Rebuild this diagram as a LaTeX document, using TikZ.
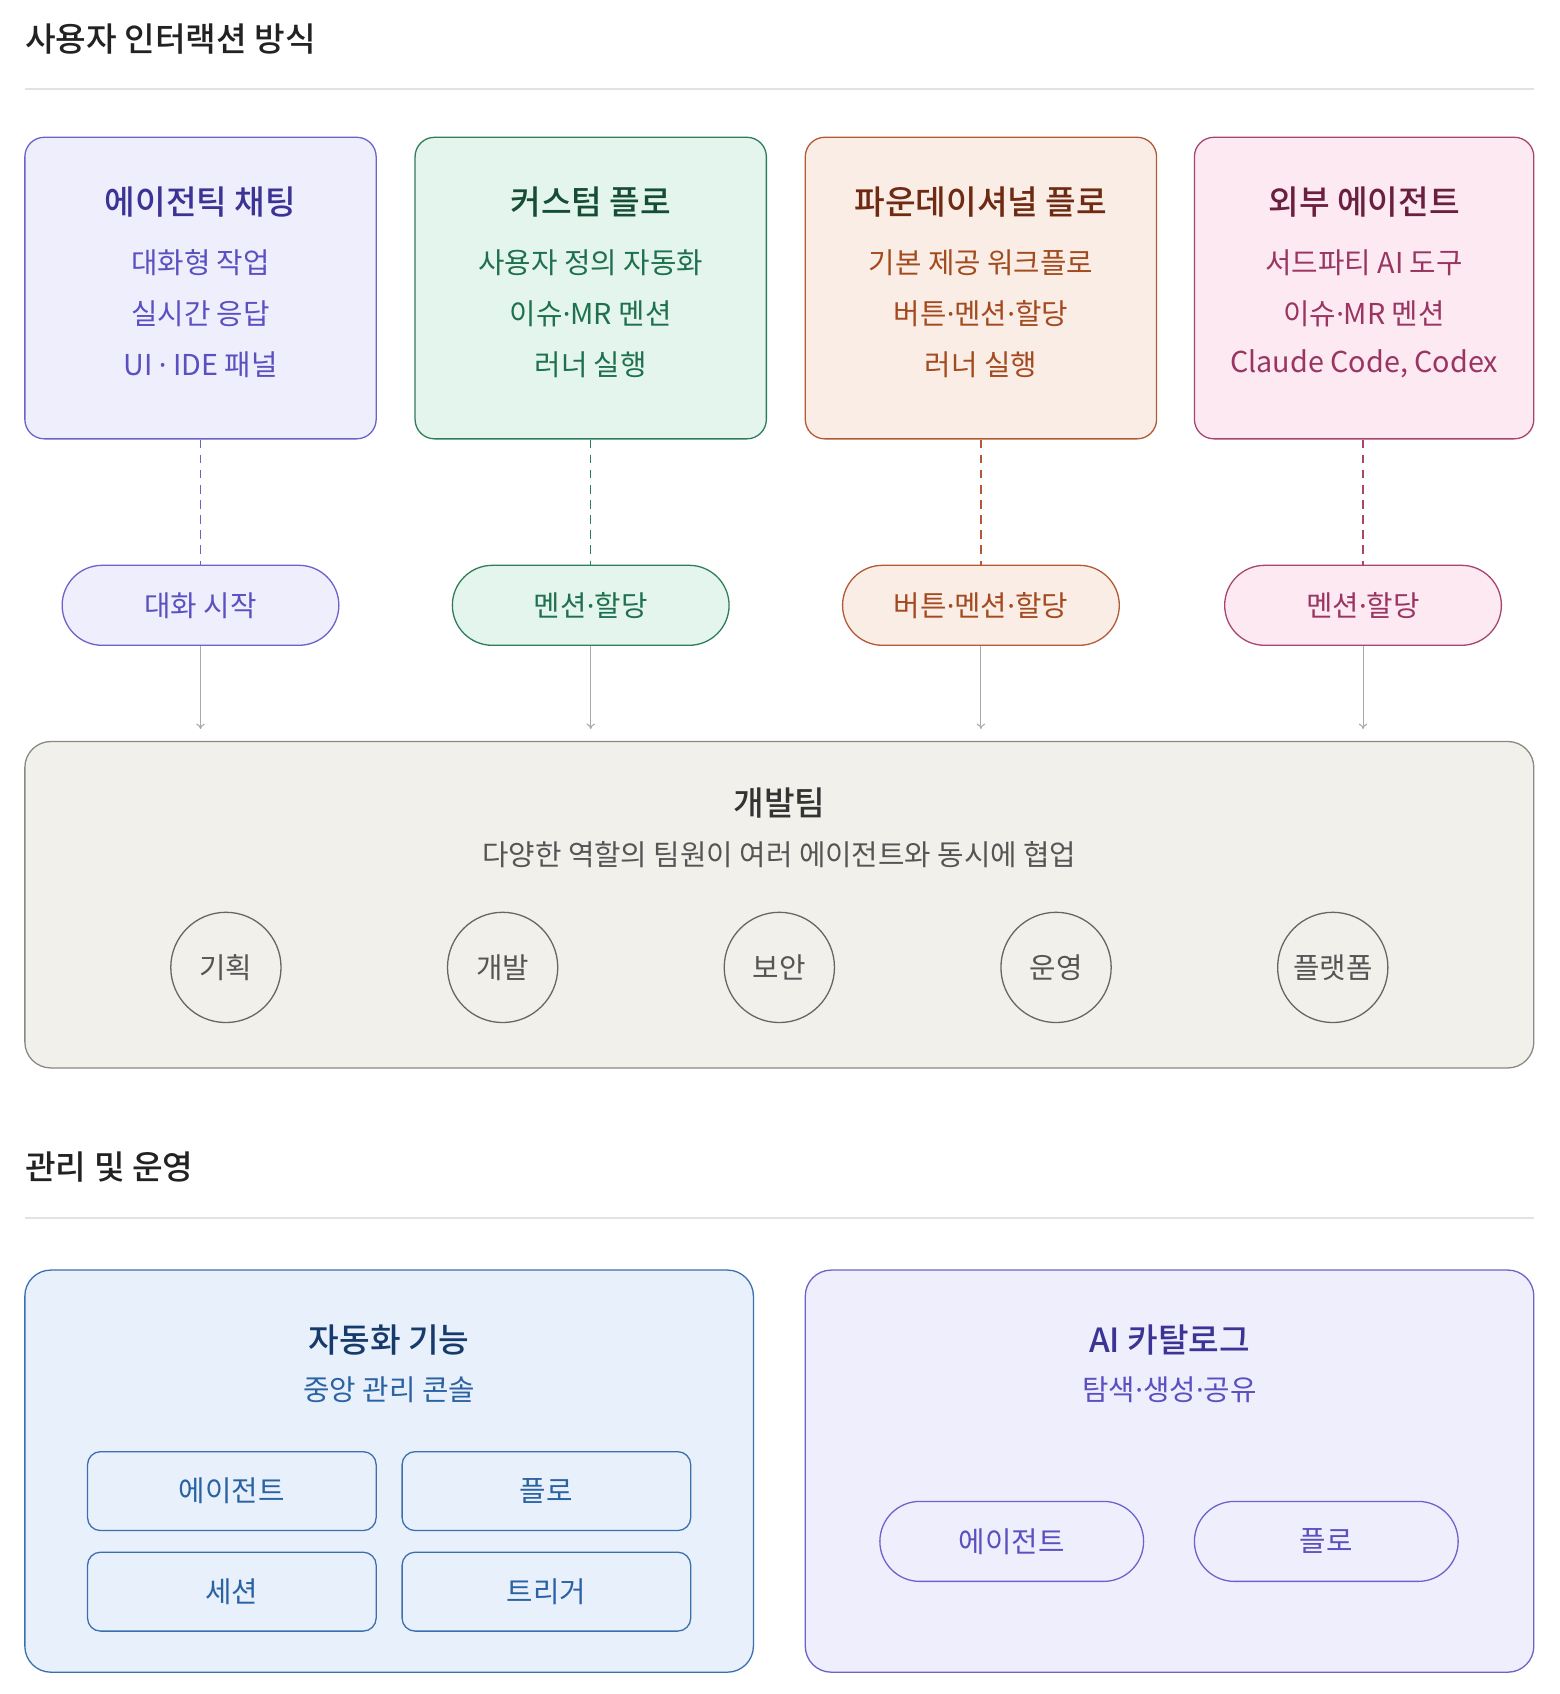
\documentclass[tikz,border=0pt]{standalone}
\usepackage{fontspec}
\setmainfont{Noto Sans CJK KR}[BoldFont={Noto Sans CJK KR Medium}]
\newfontfamily\latinf{Noto Sans}
\newcommand{\md}{{\latinf ·}}
\usetikzlibrary{arrows.meta}
\definecolor{pBd}{HTML}{6C63C9}\definecolor{pFi}{HTML}{EFEEFD}\definecolor{pTi}{HTML}{3C3494}\definecolor{pTx}{HTML}{5A50C0}
\definecolor{gBd}{HTML}{2F7D5A}\definecolor{gFi}{HTML}{E3F5ED}\definecolor{gTi}{HTML}{164D36}\definecolor{gTx}{HTML}{1F7050}
\definecolor{oBd}{HTML}{B35A35}\definecolor{oFi}{HTML}{FAEDE6}\definecolor{oTi}{HTML}{6E2A12}\definecolor{oTx}{HTML}{A34A1F}
\definecolor{kBd}{HTML}{A8456F}\definecolor{kFi}{HTML}{FCE9F1}\definecolor{kTi}{HTML}{6B1F3F}\definecolor{kTx}{HTML}{9A3563}
\definecolor{yBd}{HTML}{8A8A84}\definecolor{yFi}{HTML}{F1F0EB}\definecolor{yTi}{HTML}{333333}\definecolor{yTx}{HTML}{555555}\definecolor{yCi}{HTML}{666666}
\definecolor{bBd}{HTML}{3B6FAD}\definecolor{bFi}{HTML}{E7F0FB}\definecolor{bTi}{HTML}{163A6B}\definecolor{bTx}{HTML}{2B62A3}
\definecolor{ruleC}{HTML}{E2E2E2}\definecolor{headC}{HTML}{222222}\definecolor{arrC}{HTML}{AAAAAA}
\tikzset{
  topbox/.style={draw=#1Bd,fill=#1Fi,line width=0.6pt,rounded corners=9pt,minimum width=162.5pt,minimum height=139.5pt,inner sep=0pt},
  pill/.style={draw=#1Bd,fill=#1Fi,line width=0.6pt,rounded corners=18.5pt,minimum width=128pt,minimum height=37pt,inner sep=0pt,text=#1Tx,font=\fontsize{13.3pt}{15pt}\selectfont},
  ttl/.style={text=#1Ti,font=\fontsize{15.4pt}{17pt}\selectfont\bfseries,inner sep=0pt},
  txt/.style={text=#1Tx,font=\fontsize{13.3pt}{15pt}\selectfont,inner sep=0pt},
  head/.style={text=headC,font=\fontsize{15.4pt}{17pt}\selectfont\bfseries,inner sep=0pt,anchor=west},
  hrule/.style={draw=ruleC,line width=1pt},
  dashlink/.style={draw=#1Bd,line width=0.6pt,dash pattern=on 4pt off 3pt},
  arrlink/.style={draw=arrC,line width=0.5pt,-{To[length=2.5pt,width=4pt]},shorten >=5.5pt},
  rolec/.style={circle,draw=yCi,line width=0.6pt,minimum size=51pt,inner sep=0pt,text=yTx,font=\fontsize{13.3pt}{15pt}\selectfont},
  bigbox/.style={draw=#1Bd,fill=#1Fi,line width=0.6pt,rounded corners=12pt,minimum width=337pt,minimum height=186pt,inner sep=0pt},
  subrect/.style={draw=bBd,fill=bFi,line width=0.6pt,rounded corners=6pt,minimum width=133.5pt,minimum height=36.5pt,inner sep=0pt,text=bTx,font=\fontsize{13.3pt}{15pt}\selectfont},
  catpill/.style={draw=pBd,fill=pFi,line width=0.6pt,rounded corners=18.5pt,minimum width=122pt,minimum height=37pt,inner sep=0pt,text=pTx,font=\fontsize{13.3pt}{15pt}\selectfont},
}
\begin{document}
\begin{tikzpicture}[x=0.5pt,y=-0.5pt]
\useasboundingbox[fill=white] (0,0) rectangle (1443,1567.2);
% section 1
\node[head] (h1) at (23,36) {사용자 인터랙션 방식};
\coordinate (r1a) at (23,82); \coordinate (r1b) at (1419,82);
\draw[hrule] (r1a) -- (r1b);
% top boxes
\node[topbox=p] (b1) at (185.5,266.5) {};
\node[topbox=g] (b2) at (546.5,266.5) {};
\node[topbox=o] (b3) at (907.5,266.5) {};
\node[topbox=k,minimum width=157pt] (b4) at (1262,266.5) {};
\node[ttl=p] (b1t) at (185.5,187) {에이전틱 채팅};
\node[txt=p] (b1a) at (185.5,243) {대화형 작업};
\node[txt=p] (b1b) at (185.5,290) {실시간 응답};
\node[txt=p] (b1c) at (185.5,337) {UI \md{} IDE 패널};
\node[ttl=g] (b2t) at (546.5,187) {커스텀 플로};
\node[txt=g] (b2a) at (546.5,243) {사용자 정의 자동화};
\node[txt=g] (b2b) at (546.5,290) {이슈\md MR 멘션};
\node[txt=g] (b2c) at (546.5,337) {러너 실행};
\node[ttl=o] (b3t) at (907.5,187) {파운데이셔널 플로};
\node[txt=o] (b3a) at (907.5,243) {기본 제공 워크플로};
\node[txt=o] (b3b) at (907.5,290) {버튼\md 멘션\md 할당};
\node[txt=o] (b3c) at (907.5,337) {러너 실행};
\node[ttl=k] (b4t) at (1262,187) {외부 에이전트};
\node[txt=k] (b4a) at (1262,243) {서드파티 AI 도구};
\node[txt=k] (b4b) at (1262,290) {이슈\md MR 멘션};
\node[txt=k] (b4c) at (1262,337) {Claude Code, Codex};
% pills
\node[pill=p] (p1) at (185.5,560) {대화 시작};
\node[pill=g] (p2) at (546.5,560) {멘션\md 할당};
\node[pill=o] (p3) at (907.5,560) {버튼\md 멘션\md 할당};
\node[pill=k] (p4) at (1261,560) {멘션\md 할당};
% dev team
\node[draw=yBd,fill=yFi,line width=0.6pt,rounded corners=12pt,minimum width=698pt,minimum height=151pt,inner sep=0pt] (dev) at (721,837) {};
\node[ttl=y] (devt) at (721,743) {개발팀};
\node[txt=y] (devs) at (721,791) {다양한 역할의 팀원이 여러 에이전트와 동시에 협업};
\node[rolec] (c1) at (209,895) {기획};
\node[rolec] (c2) at (465,895) {개발};
\node[rolec] (c3) at (721,895) {보안};
\node[rolec] (c4) at (977,895) {운영};
\node[rolec] (c5) at (1233,895) {플랫폼};
% connectors
\draw[dashlink=p] (b1.south) -- (p1.north);
\draw[dashlink=g] (b2.south) -- (p2.north);
\draw[dashlink=o] (b3.south) -- (p3.north);
\draw[dashlink=k] (p4.north |- b4.south) -- (p4.north);
\draw[arrlink] (p1.south) -- (p1.south |- dev.north);
\draw[arrlink] (p2.south) -- (p2.south |- dev.north);
\draw[arrlink] (p3.south) -- (p3.south |- dev.north);
\draw[arrlink] (p4.south) -- (p4.south |- dev.north);
% section 2
\node[head] (h2) at (23,1080) {관리 및 운영};
\coordinate (r2a) at (23,1127); \coordinate (r2b) at (1419,1127);
\draw[hrule] (r2a) -- (r2b);
\node[bigbox=b] (auto) at (360,1361) {};
\node[ttl=b] (autot) at (360,1240) {자동화 기능};
\node[txt=b] (autos) at (360,1286) {중앙 관리 콘솔};
\node[subrect] (s1) at (214.5,1379.5) {에이전트};
\node[subrect] (s2) at (505.5,1379.5) {플로};
\node[subrect] (s3) at (214.5,1472.5) {세션};
\node[subrect] (s4) at (505.5,1472.5) {트리거};
\node[bigbox=p] (cat) at (1082,1361) {};
\node[ttl=p] (catt) at (1082,1240) {AI 카탈로그};
\node[txt=p] (cats) at (1082,1286) {탐색\md 생성\md 공유};
\node[catpill] (q1) at (936,1426) {에이전트};
\node[catpill] (q2) at (1227,1426) {플로};
\end{tikzpicture}
\end{document}
